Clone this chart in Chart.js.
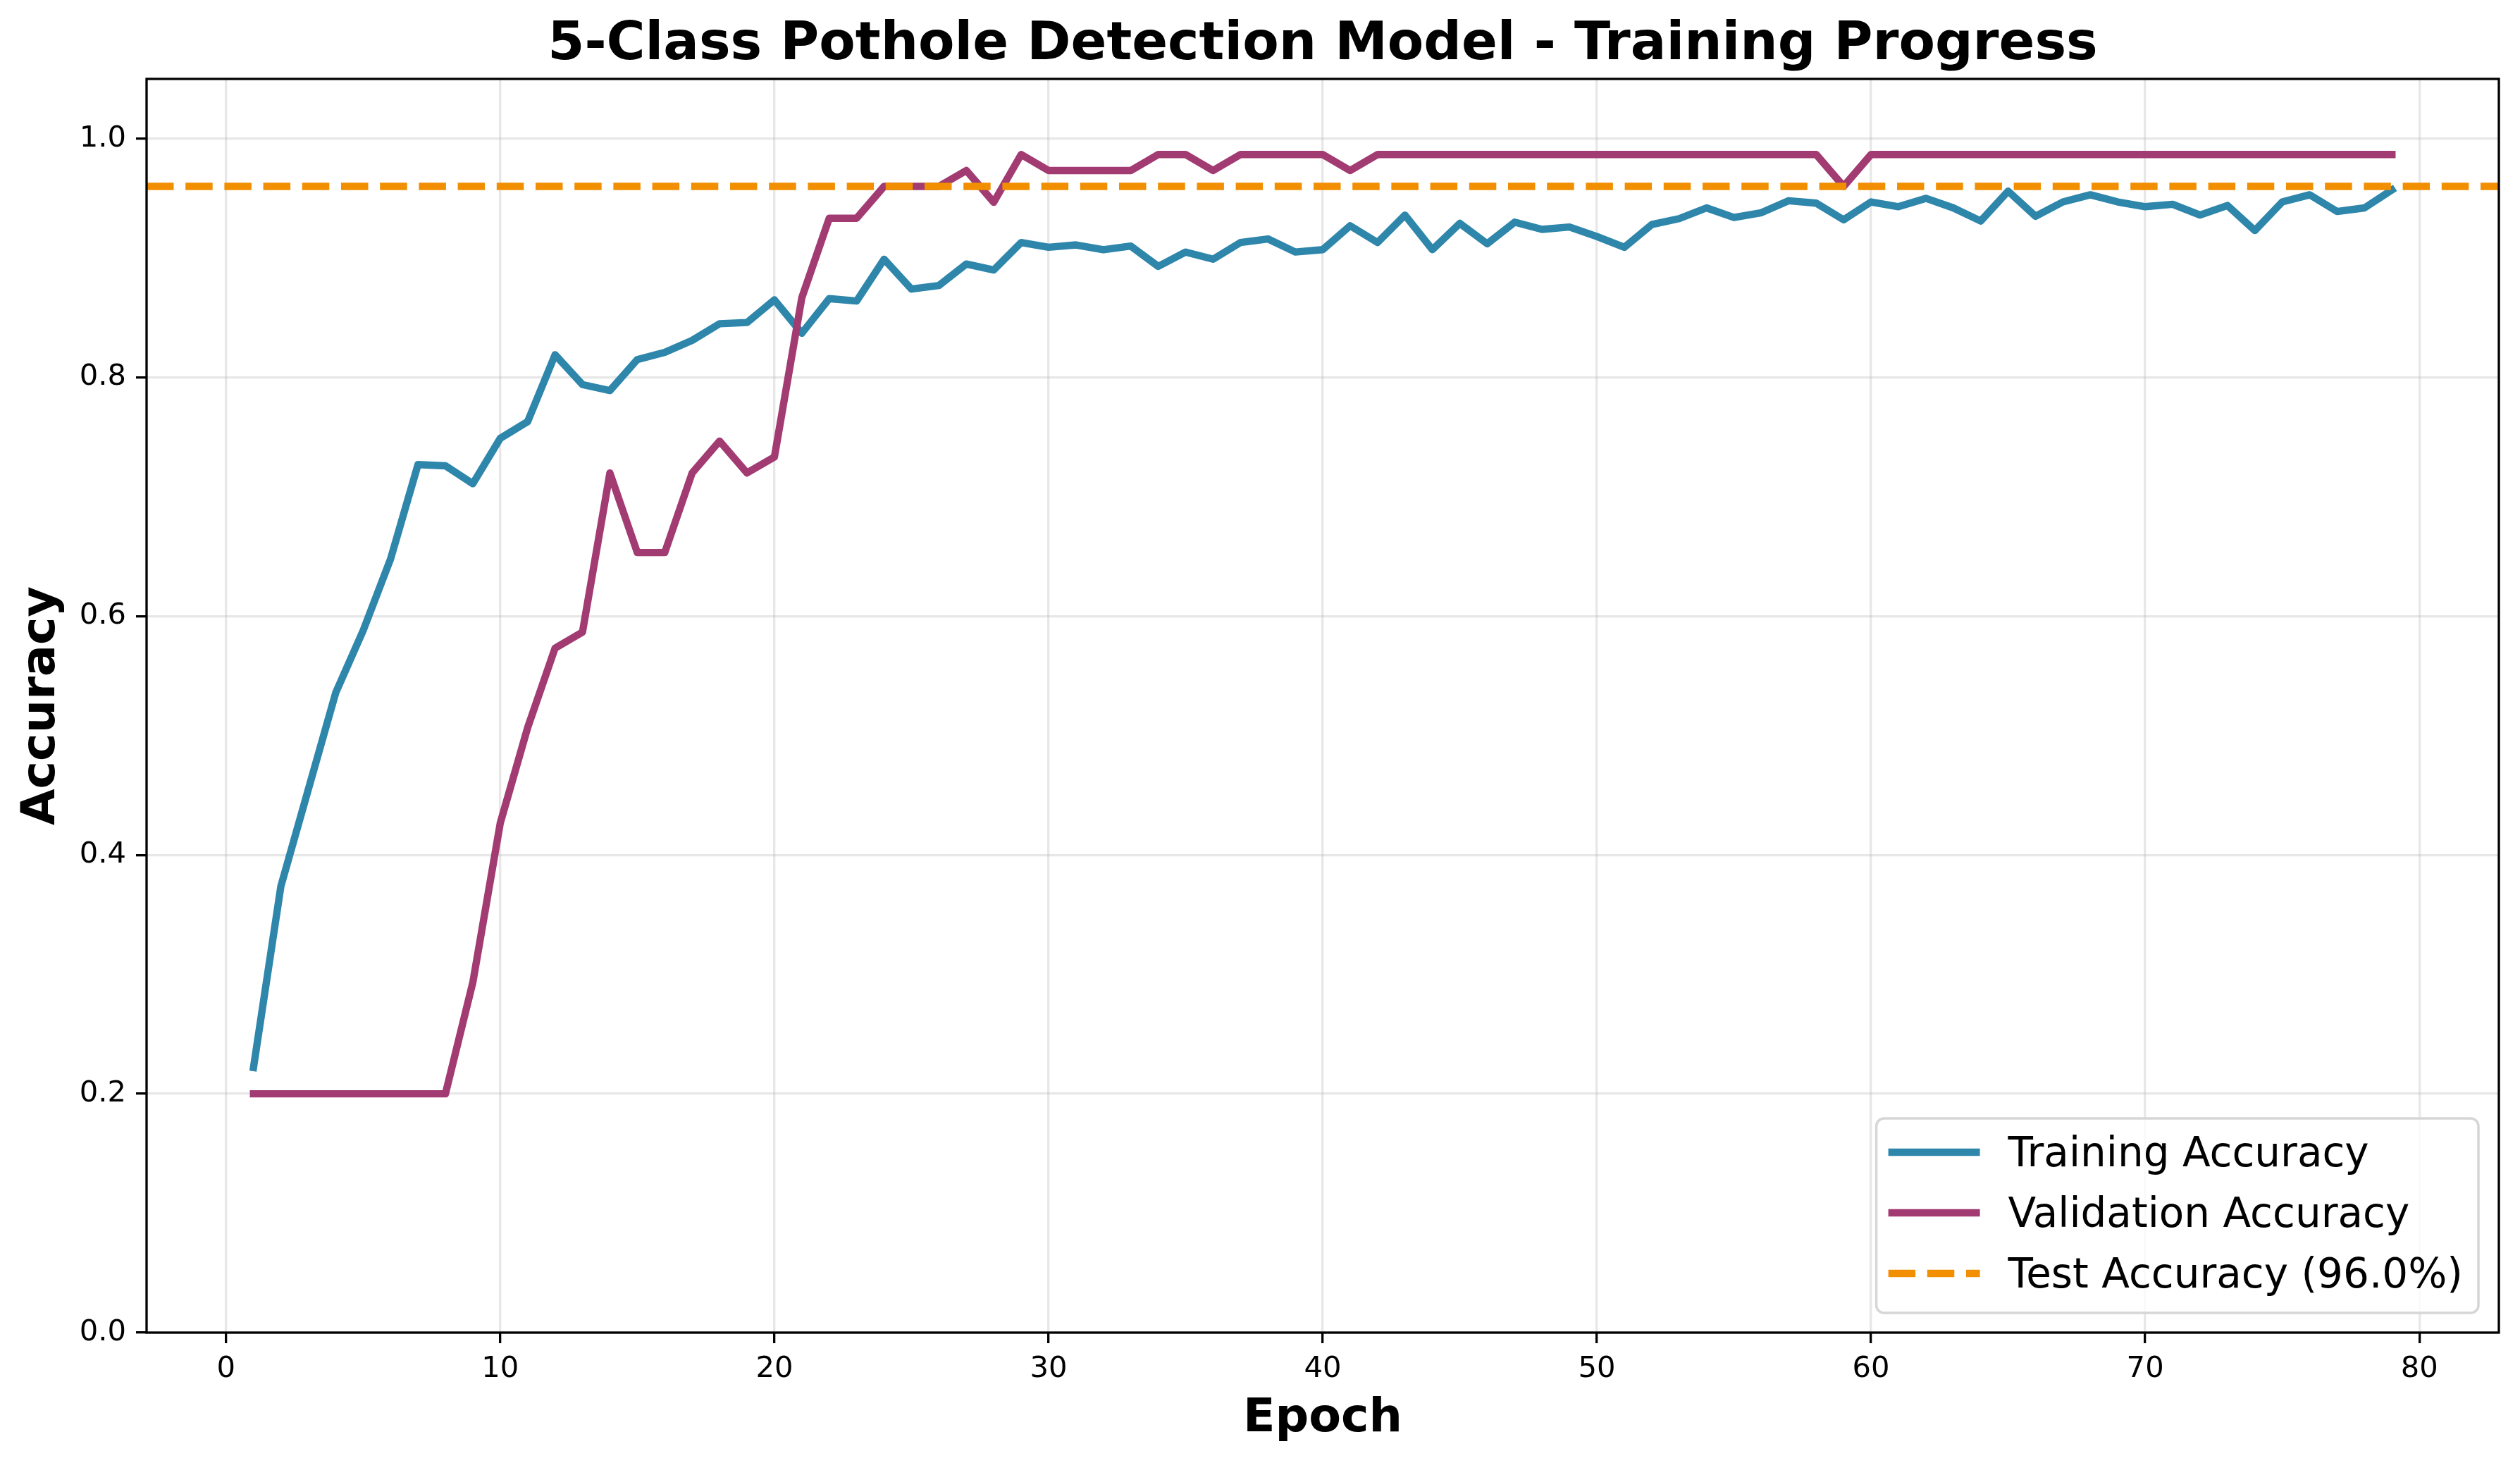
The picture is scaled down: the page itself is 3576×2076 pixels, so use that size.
<!DOCTYPE html>
<html>
<head>
<meta charset="utf-8">
<title>5-Class Pothole Detection Model - Training Progress</title>
<script src="https://cdn.jsdelivr.net/npm/chart.js@4.4.1/dist/chart.umd.min.js"></script>
<style>
    html, body { margin: 0; padding: 0; background: #ffffff; }
    canvas { display: block; }
</style>
</head>
<body>
<canvas id="trainingChart" width="3576" height="2076"></canvas>
<script>
// Training history - 5-class pothole model

const epochs = Array.from({ length: 79 }, (_, i) => i + 1);

const trainingAccuracy = [
    0.222, 0.374, 0.455, 0.536, 0.588, 0.648, 0.727, 0.726, 0.711, 0.749,
    0.763, 0.819, 0.794, 0.789, 0.815, 0.821, 0.831, 0.845, 0.846, 0.865,
    0.837, 0.866, 0.864, 0.899, 0.874, 0.877, 0.895, 0.890, 0.913, 0.909,
    0.911, 0.907, 0.910, 0.893, 0.905, 0.899, 0.913, 0.916, 0.905, 0.907,
    0.927, 0.913, 0.936, 0.907, 0.929, 0.912, 0.930, 0.924, 0.926, 0.918,
    0.909, 0.928, 0.933, 0.942, 0.934, 0.938, 0.948, 0.946, 0.932, 0.947,
    0.943, 0.950, 0.942, 0.931, 0.956, 0.935, 0.947, 0.953, 0.947, 0.943,
    0.945, 0.936, 0.944, 0.923, 0.947, 0.953, 0.939, 0.942, 0.957
];

const validationAccuracy = [
    0.2, 0.2, 0.2, 0.2, 0.2, 0.2, 0.2, 0.2, 0.2933, 0.4267,
    0.5067, 0.5733, 0.5867, 0.72, 0.6533, 0.6533, 0.72, 0.7467, 0.72, 0.7333,
    0.8667, 0.9333, 0.9333, 0.96, 0.96, 0.96, 0.9733, 0.9467, 0.9867, 0.9733,
    0.9733, 0.9733, 0.9733, 0.9867, 0.9867, 0.9733, 0.9867, 0.9867, 0.9867, 0.9867,
    0.9733, 0.9867, 0.9867, 0.9867, 0.9867, 0.9867, 0.9867, 0.9867, 0.9867, 0.9867,
    0.9867, 0.9867, 0.9867, 0.9867, 0.9867, 0.9867, 0.9867, 0.9867, 0.96, 0.9867,
    0.9867, 0.9867, 0.9867, 0.9867, 0.9867, 0.9867, 0.9867, 0.9867, 0.9867, 0.9867,
    0.9867, 0.9867, 0.9867, 0.9867, 0.9867, 0.9867, 0.9867, 0.9867, 0.9867
];

const testAccuracy = 0.96;

const xTickValues = [0, 10, 20, 30, 40, 50, 60, 70, 80];
const yTickValues = [0.0, 0.2, 0.4, 0.6, 0.8, 1.0];

const X_MIN = -2.9;
const X_MAX = 82.9;
const Y_MIN = 0;
const Y_MAX = 1.05;

const FONT = 'DejaVu Sans';
const COLORS = {
    train: '#2E86AB',
    val: '#A23B72',
    test: '#F18F01'
};

// frame round the axes (all four spines), drawn over the lines
const spinesPlugin = {
    id: 'spines',
    afterDatasetsDraw(chart) {
        const { ctx, chartArea: a } = chart;
        ctx.save();
        ctx.strokeStyle = '#000000';
        ctx.lineWidth = 3.3;
        ctx.strokeRect(a.left, a.top, a.right - a.left, a.bottom - a.top);
        ctx.restore();
    }
};

// matplotlib style legend in the lower right corner
const boxLegendPlugin = {
    id: 'boxLegend',
    afterDraw(chart) {
        const { ctx, chartArea: a } = chart;
        const datasets = chart.data.datasets;
        const fontSize = 58;
        const pad = 17;
        const handleLen = 130;
        const gap = 40;
        const rowH = 86;
        const firstRow = 48;
        const lastPad = 56;

        ctx.save();
        ctx.font = `${fontSize}px "${FONT}"`;
        const textW = Math.max(...datasets.map(d => ctx.measureText(d.label).width));

        const w = pad + handleLen + gap + textW + 22;
        const h = firstRow + rowH * (datasets.length - 1) + lastPad;
        const right = a.right - 29;
        const bottom = a.bottom - 28;
        const left = right - w;
        const top = bottom - h;

        ctx.beginPath();
        ctx.roundRect(left, top, w, h, 11);
        ctx.fillStyle = 'rgba(255, 255, 255, 0.8)';
        ctx.fill();
        ctx.lineWidth = 3.5;
        ctx.strokeStyle = '#d6d6d6';
        ctx.stroke();

        datasets.forEach((d, i) => {
            const y = top + firstRow + i * rowH;
            const hx = left + pad;
            ctx.beginPath();
            ctx.setLineDash(d.borderDash || []);
            ctx.lineCap = 'butt';
            ctx.strokeStyle = d.borderColor;
            ctx.lineWidth = d.borderWidth;
            ctx.moveTo(hx, y);
            ctx.lineTo(hx + handleLen, y);
            ctx.stroke();
            ctx.setLineDash([]);

            ctx.fillStyle = '#000000';
            ctx.textBaseline = 'alphabetic';
            ctx.textAlign = 'left';
            ctx.fillText(d.label, hx + handleLen + gap, y + 20);
        });
        ctx.restore();
    }
};

function toPoints(values) {
    return values.map((v, i) => ({ x: epochs[i], y: v }));
}

function buildChart() {
    const ctx = document.getElementById('trainingChart');

    Chart.defaults.font.family = FONT;
    Chart.defaults.color = '#000000';

    new Chart(ctx, {
        type: 'line',
        data: {
            datasets: [
                {
                    label: 'Training Accuracy',
                    data: toPoints(trainingAccuracy),
                    borderColor: COLORS.train,
                    borderWidth: 10.4,
                    borderJoinStyle: 'round',
                    borderCapStyle: 'square',
                    pointRadius: 0,
                    tension: 0,
                    order: 2
                },
                {
                    label: 'Validation Accuracy',
                    data: toPoints(validationAccuracy),
                    borderColor: COLORS.val,
                    borderWidth: 10.4,
                    borderJoinStyle: 'round',
                    borderCapStyle: 'square',
                    pointRadius: 0,
                    tension: 0,
                    order: 1
                },
                {
                    label: `Test Accuracy (${(testAccuracy * 100).toFixed(1)}%)`,
                    data: [{ x: X_MIN, y: testAccuracy }, { x: X_MAX, y: testAccuracy }],
                    borderColor: COLORS.test,
                    borderWidth: 10.4,
                    borderDash: [38.5, 16.7],
                    borderCapStyle: 'butt',
                    pointRadius: 0,
                    order: 0
                }
            ]
        },
        options: {
            responsive: false,
            devicePixelRatio: 1,
            animation: false,
            layout: {
                padding: { left: 0, right: 30, top: 0, bottom: 0 }
            },
            plugins: {
                legend: { display: false },
                tooltip: { enabled: false },
                title: {
                    display: true,
                    text: '5-Class Pothole Detection Model - Training Progress',
                    fullSize: false,
                    color: '#000000',
                    font: { family: FONT, size: 75, weight: 'bold', lineHeight: 1.2 },
                    padding: { top: 20, bottom: 2 }
                }
            },
            scales: {
                x: {
                    type: 'linear',
                    min: X_MIN,
                    max: X_MAX,
                    afterBuildTicks: (scale) => {
                        scale.ticks = xTickValues.map(v => ({ value: v }));
                    },
                    afterFit: (scale) => { scale.height = 185; },
                    ticks: {
                        callback: (v) => String(v),
                        font: { family: FONT, size: 41.7 },
                        color: '#000000',
                        padding: 12,
                        maxRotation: 0,
                        autoSkip: false
                    },
                    grid: {
                        color: 'rgba(176, 176, 176, 0.3)',
                        lineWidth: 3.3,
                        drawTicks: true,
                        tickLength: 15,
                        tickColor: '#000000',
                        tickWidth: 3.3
                    },
                    border: { display: false },
                    title: {
                        display: true,
                        text: 'Epoch',
                        color: '#000000',
                        font: { family: FONT, size: 66.7, weight: 'bold', lineHeight: 1.2 },
                        padding: { top: 0, bottom: 22 }
                    }
                },
                y: {
                    type: 'linear',
                    min: Y_MIN,
                    max: Y_MAX,
                    afterBuildTicks: (scale) => {
                        scale.ticks = yTickValues.map(v => ({ value: v }));
                    },
                    afterFit: (scale) => { scale.width = 208; },
                    ticks: {
                        callback: (v) => Number(v).toFixed(1),
                        font: { family: FONT, size: 41.7 },
                        color: '#000000',
                        padding: 14,
                        autoSkip: false
                    },
                    grid: {
                        color: 'rgba(176, 176, 176, 0.3)',
                        lineWidth: 3.3,
                        drawTicks: true,
                        tickLength: 15,
                        tickColor: '#000000',
                        tickWidth: 3.3
                    },
                    border: { display: false },
                    title: {
                        display: true,
                        text: 'Accuracy',
                        color: '#000000',
                        font: { family: FONT, size: 66.7, weight: 'bold', lineHeight: 1.2 },
                        padding: { top: 20, bottom: 0 }
                    }
                }
            }
        },
        plugins: [spinesPlugin, boxLegendPlugin]
    });
}

document.addEventListener('DOMContentLoaded', () => {
    buildChart();
});
</script>
</body>
</html>
